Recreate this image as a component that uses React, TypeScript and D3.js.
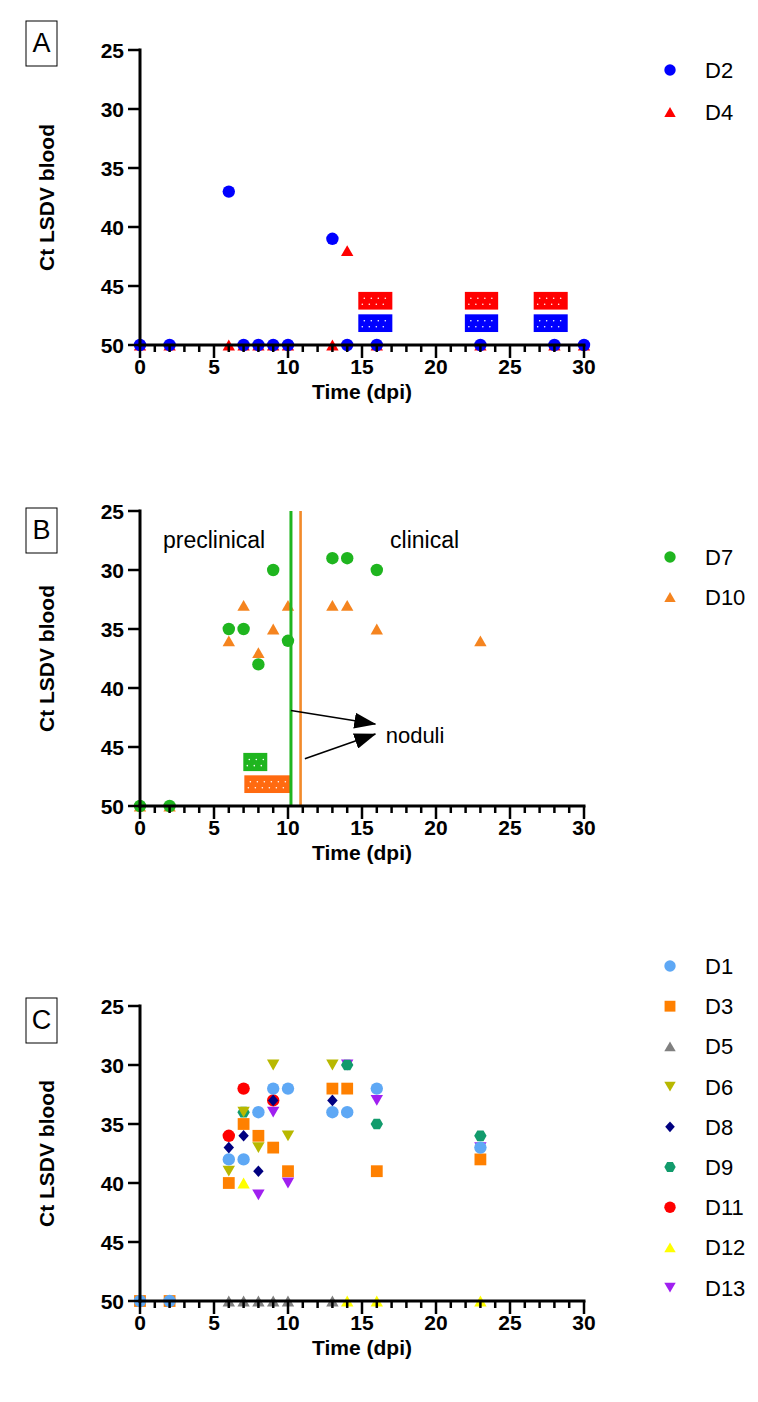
import React from 'react';
import * as d3 from 'd3';

// ---------- shared ticks ----------
const X_TICKS = [0, 5, 10, 15, 20, 25, 30];
const X_MINOR = d3.range(0, 31, 1);
const Y_TICKS = [25, 30, 35, 40, 45, 50];

// ---------- Panel A ----------
const A_D2_DAY = [0, 2, 6, 7, 8, 9, 10, 13, 14, 16, 23, 28, 30];
const A_D2_CT = [50, 50, 37, 50, 50, 50, 50, 41, 50, 50, 50, 50, 50];
const A_D4_DAY = [0, 2, 6, 7, 8, 9, 10, 13, 14, 16, 23, 28, 30];
const A_D4_CT = [50, 50, 50, 50, 50, 50, 50, 50, 42, 50, 50, 50, 50];
const A_BAR_START = [14.75, 21.95, 26.6];
const A_BAR_END = [17.05, 24.2, 28.9];
const BAR_UPPER = [45.5, 47.0];
const BAR_LOWER = [47.4, 48.9];

// ---------- Panel B ----------
const B_D7_DAY = [0, 2, 6, 7, 8, 9, 10, 13, 14, 16];
const B_D7_CT = [50, 50, 35, 35, 38, 30, 36, 29, 29, 30];
const B_D10_DAY = [0, 2, 6, 7, 8, 9, 10, 13, 14, 16, 23];
const B_D10_CT = [50, 50, 36, 33, 37, 35, 33, 33, 33, 35, 36];
const B_D7_BAR = [6.98, 8.6];
const B_D10_BAR = [7.05, 10.27];
const B_D7_LINE = 10.2;
const B_D10_LINE = 10.85;

// ---------- Panel C ----------
const C_D1_DAY = [0, 2, 6, 7, 8, 9, 10, 13, 14, 16, 23];
const C_D1_CT = [50, 50, 38, 38, 34, 32, 32, 34, 34, 32, 37];
const C_D3_DAY = [0, 2, 6, 7, 8, 9, 10, 13, 14, 16, 23];
const C_D3_CT = [50, 50, 40, 35, 36, 37, 39, 32, 32, 39, 38];
const C_D5_DAY = [6, 7, 8, 9, 10, 13];
const C_D5_CT = [50, 50, 50, 50, 50, 50];
const C_D6_DAY = [6, 7, 8, 9, 10, 13];
const C_D6_CT = [39, 34, 37, 30, 36, 30];
const C_D8_DAY = [6, 7, 8, 9, 13];
const C_D8_CT = [37, 36, 39, 33, 33];
const C_D9_DAY = [7, 14, 16, 23];
const C_D9_CT = [34, 30, 35, 36];
const C_D11_DAY = [6, 7, 9];
const C_D11_CT = [36, 32, 33];
const C_D12_DAY = [7, 14, 16, 23];
const C_D12_CT = [40, 50, 50, 50];
const C_D13_DAY = [8, 9, 10, 14, 16, 23];
const C_D13_CT = [41, 34, 40, 30, 33, 37];

type Shape = 'circle' | 'square' | 'triUp' | 'triDown' | 'diamond' | 'hexagon';

interface Series {
  name: string;
  days: number[];
  ct: number[];
  color: string;
  shape: Shape;
}

const SERIES_A: Series[] = [
  { name: 'D2', days: A_D2_DAY, ct: A_D2_CT, color: '#0000ff', shape: 'circle' },
  { name: 'D4', days: A_D4_DAY, ct: A_D4_CT, color: '#ff0000', shape: 'triUp' },
];
const SERIES_B: Series[] = [
  { name: 'D7', days: B_D7_DAY, ct: B_D7_CT, color: '#1fb51f', shape: 'circle' },
  { name: 'D10', days: B_D10_DAY, ct: B_D10_CT, color: '#f5841f', shape: 'triUp' },
];
const SERIES_C: Series[] = [
  { name: 'D1', days: C_D1_DAY, ct: C_D1_CT, color: '#5ea8f5', shape: 'circle' },
  { name: 'D3', days: C_D3_DAY, ct: C_D3_CT, color: '#ff8000', shape: 'square' },
  { name: 'D5', days: C_D5_DAY, ct: C_D5_CT, color: '#808080', shape: 'triUp' },
  { name: 'D6', days: C_D6_DAY, ct: C_D6_CT, color: '#b8b800', shape: 'triDown' },
  { name: 'D8', days: C_D8_DAY, ct: C_D8_CT, color: '#000080', shape: 'diamond' },
  { name: 'D9', days: C_D9_DAY, ct: C_D9_CT, color: '#129b6c', shape: 'hexagon' },
  { name: 'D11', days: C_D11_DAY, ct: C_D11_CT, color: '#ff0000', shape: 'circle' },
  { name: 'D12', days: C_D12_DAY, ct: C_D12_CT, color: '#ffff00', shape: 'triUp' },
  { name: 'D13', days: C_D13_DAY, ct: C_D13_CT, color: '#a020f0', shape: 'triDown' },
];

const FONT = '"Liberation Sans", Arial, Helvetica, sans-serif';

function symbolPath(shape: Shape, s = 1): string {
  switch (shape) {
    case 'circle':
      return d3.symbol(d3.symbolCircle, Math.PI * 6.2 * 6.2 * s * s)() as string;
    case 'square': {
      const h = 5.9 * s;
      return `M${-h},${-h}H${h}V${h}H${-h}Z`;
    }
    case 'triUp': {
      const w = 6.2 * s, h = 5.4 * s;
      return `M0,${-h}L${w},${h}L${-w},${h}Z`;
    }
    case 'triDown': {
      const w = 6.2 * s, h = 5.4 * s;
      return `M0,${h}L${w},${-h}L${-w},${-h}Z`;
    }
    case 'diamond': {
      const r = 5.8 * s;
      return `M0,${-r}L${r * 0.9},0L0,${r}L${-r * 0.9},0Z`;
    }
    case 'hexagon': {
      const r = 6.2 * s;
      const pts = d3.range(6).map((i) => {
        const a = (Math.PI / 3) * i;
        return [r * Math.cos(a), r * Math.sin(a)];
      });
      return 'M' + pts.map((p) => p.join(',')).join('L') + 'Z';
    }
  }
}

const X0 = 140;
const X1 = 584;

interface PanelProps {
  top: number; // pixel of Ct=25
  label: string;
  boxTop: number;
  series: Series[];
  legendY: number;
  legendStep: number;
  overlay?: (x: d3.ScaleLinear<number, number>, y: d3.ScaleLinear<number, number>) => React.ReactNode;
}

function Panel({ top, label, boxTop, series, legendY, legendStep, overlay }: PanelProps) {
  const x = d3.scaleLinear().domain([0, 30]).range([X0, X1]);
  const y = d3.scaleLinear().domain([25, 50]).range([top, top + 295]);
  const yBottom = y(50);
  const drawOrder = [...series].reverse();
  return (
    <g>
      {/* panel letter box */}
      <rect x={26} y={boxTop} width={31} height={45} fill="none" stroke="#000" strokeWidth={1} />
      <text x={41.5} y={boxTop + 31} textAnchor="middle" fontFamily={FONT} fontSize={27} fill="#000">
        {label}
      </text>
      {/* y title */}
      <text
        transform={`translate(54,${(y(25) + y(50)) / 2}) rotate(-90)`}
        textAnchor="middle"
        fontFamily={FONT}
        fontWeight="bold"
        fontSize={21}
        fill="#000"
      >
        Ct LSDV blood
      </text>
      {/* points */}
      {drawOrder.map((s) =>
        s.days.map((d, i) => (
          <path
            key={s.name + '-' + i}
            d={symbolPath(s.shape)}
            transform={`translate(${x(d)},${y(s.ct[i])})`}
            fill={s.color}
          />
        ))
      )}
      {overlay && overlay(x, y)}
      {/* axes */}
      <line x1={X0} x2={X0} y1={y(25) - 1.5} y2={yBottom + 1.5} stroke="#000" strokeWidth={3} />
      <line x1={X0 - 1.5} x2={X1 + 1.5} y1={yBottom} y2={yBottom} stroke="#000" strokeWidth={3} />
      {Y_TICKS.map((t) => (
        <g key={'yt' + t}>
          <line x1={X0 - 12} x2={X0} y1={y(t)} y2={y(t)} stroke="#000" strokeWidth={2.5} />
          <text
            x={X0 - 16}
            y={y(t) + 7.5}
            textAnchor="end"
            fontFamily={FONT}
            fontWeight="bold"
            fontSize={21}
            fill="#000"
          >
            {t}
          </text>
        </g>
      ))}
      {X_MINOR.map((t) => (
        <line
          key={'xm' + t}
          x1={x(t)}
          x2={x(t)}
          y1={yBottom}
          y2={yBottom + (t % 5 === 0 ? 13 : 7)}
          stroke="#000"
          strokeWidth={2.5}
        />
      ))}
      {X_TICKS.map((t) => (
        <text
          key={'xt' + t}
          x={x(t)}
          y={yBottom + 29}
          textAnchor="middle"
          fontFamily={FONT}
          fontWeight="bold"
          fontSize={21}
          fill="#000"
        >
          {t}
        </text>
      ))}
      <text
        x={(X0 + X1) / 2}
        y={yBottom + 54}
        textAnchor="middle"
        fontFamily={FONT}
        fontWeight="bold"
        fontSize={21}
        fill="#000"
      >
        Time (dpi)
      </text>
      {/* legend */}
      {series.map((s, i) => (
        <g key={'lg' + s.name} transform={`translate(0,${legendY + i * legendStep})`}>
          <path d={symbolPath(s.shape, 0.92)} transform="translate(670,0)" fill={s.color} />
          <text x={705} y={8} fontFamily={FONT} fontSize={22} fill="#000">
            {s.name}
          </text>
        </g>
      ))}
    </g>
  );
}

function DotBar({ x0, x1, y0, y1, color }: { x0: number; x1: number; y0: number; y1: number; color: string }) {
  const h = y1 - y0;
  const cols = d3.range(x0 + 6, x1 - 3, 7);
  const rows = [y0 + h * 0.36, y0 + h * 0.7];
  return (
    <g>
      <rect x={x0} y={y0} width={x1 - x0} height={h} fill={color} />
      {rows.map((ry, ri) =>
        cols.map((cx, ci) => (
          <circle key={ri + '-' + ci} cx={cx + (ri === 1 ? -2 : 0)} cy={ry} r={0.8} fill="#fff" />
        ))
      )}
    </g>
  );
}

export default function App() {
  return (
    <svg
      width={758}
      height={1402}
      viewBox="0 0 758 1402"
      style={{ position: 'absolute', left: 0, top: 0, background: '#fff' }}
    >
      <defs>
        <marker id="arrowHead" viewBox="0 0 22 16" refX={21} refY={8} markerWidth={22} markerHeight={16} markerUnits="userSpaceOnUse" orient="auto">
          <path d="M0,0L22,8L0,16Z" fill="#000" />
        </marker>
      </defs>
      <rect x={0} y={0} width={758} height={1402} fill="#fff" />

      <Panel
        top={50}
        label="A"
        boxTop={21}
        series={SERIES_A}
        legendY={70}
        legendStep={42}
        overlay={(x, y) => (
          <g>
            {A_BAR_START.map((s, i) => (
              <g key={'ab' + i}>
                <DotBar x0={x(s)} x1={x(A_BAR_END[i])} y0={y(BAR_UPPER[0])} y1={y(BAR_UPPER[1])} color="#ff0000" />
                <DotBar x0={x(s)} x1={x(A_BAR_END[i])} y0={y(BAR_LOWER[0])} y1={y(BAR_LOWER[1])} color="#0000ff" />
              </g>
            ))}
          </g>
        )}
      />

      <Panel
        top={511}
        label="B"
        boxTop={508}
        series={SERIES_B}
        legendY={557}
        legendStep={40}
        overlay={(x, y) => (
          <g>
            <DotBar x0={x(B_D7_BAR[0])} x1={x(B_D7_BAR[1])} y0={y(BAR_UPPER[0])} y1={y(BAR_UPPER[1]) + 0.5} color="#1fb51f" />
            <DotBar x0={x(B_D10_BAR[0])} x1={x(B_D10_BAR[1])} y0={y(BAR_LOWER[0])} y1={y(BAR_LOWER[1])} color="#ff6a10" />
            <line x1={x(B_D10_LINE)} x2={x(B_D10_LINE)} y1={y(25)} y2={y(50)} stroke="#f28a2a" strokeWidth={2.6} />
            <line x1={x(B_D7_LINE)} x2={x(B_D7_LINE)} y1={y(25)} y2={y(50)} stroke="#1fb51f" strokeWidth={3} />
            <text x={x(1.55)} y={y(28.1)} fontFamily={FONT} fontSize={23} fill="#000">preclinical</text>
            <text x={x(16.9)} y={y(28.1)} fontFamily={FONT} fontSize={23} fill="#000">clinical</text>
            <line x1={x(B_D7_LINE)} y1={y(41.9)} x2={x(15.9)} y2={y(43.05)} stroke="#000" strokeWidth={1.6} markerEnd="url(#arrowHead)" />
            <line x1={x(11.14)} y1={y(46.0)} x2={x(15.9)} y2={y(43.9)} stroke="#000" strokeWidth={1.6} markerEnd="url(#arrowHead)" />
            <text x={x(16.6)} y={y(44.66)} fontFamily={FONT} fontSize={22} fill="#000">noduli</text>
          </g>
        )}
      />

      <Panel top={1006} label="C" boxTop={998} series={SERIES_C} legendY={966} legendStep={40.2} />
    </svg>
  );
}
